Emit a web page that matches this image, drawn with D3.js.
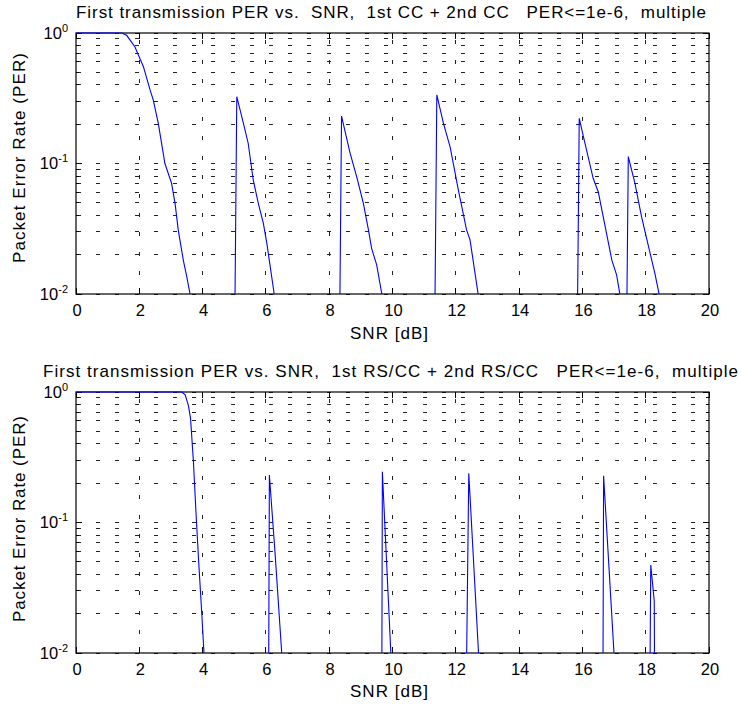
<!DOCTYPE html>
<html>
<head>
<meta charset="utf-8">
<title>PER vs SNR</title>
<script src="https://d3js.org/d3.v7.min.js"></script>
<style>
  body { margin: 0; background: #fff; }
  text { font-family: "Liberation Sans", Arial, sans-serif; fill: #000; }
</style>
</head>
<body>
<div id="chart"></div>
<script>
// top panel: 1st CC + 2nd CC  (1e-6 = below the plotted range)
var snrTop = [0, 0.4, 0.8, 1.2, 1.44, 1.6, 1.86, 2.13, 2.34, 2.44, 2.60, 2.81, 3.02, 3.13, 3.23, 3.39, 3.50, 3.60, 3.80,
  4.88, 5.08, 5.29, 5.44, 5.60, 5.76, 5.92, 6.03, 6.26, 6.45,
  8.19, 8.39, 8.66, 8.87, 9.08, 9.24, 9.34, 9.50, 9.66, 9.85,
  11.20, 11.40, 11.61, 11.82, 12.08, 12.34, 12.45, 12.71, 12.90,
  15.70, 15.90, 16.08, 16.34, 16.50, 16.72, 16.93, 17.08, 17.19, 17.25,
  17.45, 17.66, 17.87, 18.14, 18.29, 18.43, 18.60];
var perTop = [1, 1, 1, 1, 1, 0.96, 0.785, 0.552, 0.366, 0.307, 0.203, 0.100, 0.0705, 0.0495, 0.031, 0.0182, 0.0136, 0.0101, 1e-6,
  1e-6, 0.325, 0.203, 0.143, 0.0748, 0.0495, 0.0348, 0.0244, 0.0101, 1e-6,
  1e-6, 0.231, 0.120, 0.079, 0.0495, 0.031, 0.0224, 0.0167, 0.0101, 1e-6,
  1e-6, 0.335, 0.203, 0.134, 0.0627, 0.031, 0.026, 0.0098, 1e-6,
  1e-6, 0.222, 0.143, 0.077, 0.0608, 0.0328, 0.0182, 0.014, 0.0098, 1e-6,
  0.113, 0.0705, 0.039, 0.0205, 0.0144, 0.0098, 1e-6];

// bottom panel: 1st RS/CC + 2nd RS/CC
var snrBot = [0, 1, 2, 3, 3.34, 3.45, 3.55, 3.62, 3.71, 3.79, 3.87, 3.97, 4.04, 4.20,
  6.03, 6.11, 6.29, 6.50, 6.65,
  9.62, 9.68, 9.95, 10.10,
  12.15, 12.41, 12.72, 12.90,
  16.60, 16.67, 17.00, 17.15,
  18.02, 18.16, 18.27, 18.35];
var perBot = [1, 1, 1, 1, 1, 0.95, 0.79, 0.625, 0.292, 0.121, 0.053, 0.0208, 0.0104, 1e-6,
  1e-6, 0.231, 0.058, 0.01, 1e-6,
  1e-6, 0.245, 0.0097, 1e-6,
  1e-6, 0.238, 0.0098, 1e-6,
  1e-6, 0.228, 0.0098, 1e-6,
  1e-6, 0.0473, 0.025, 1e-6];

var titles = ["First transmission PER vs.  SNR,  1st CC + 2nd CC   PER<=1e-6,  multiple",
              "First transmission PER vs. SNR,  1st RS/CC + 2nd RS/CC   PER<=1e-6,  multiple"];
var xLabel = "SNR [dB]";
var yLabel = "Packet Error Rate (PER)";
var xTicks = [0, 2, 4, 6, 8, 10, 12, 14, 16, 18, 20];
var yTicks = [0.01, 0.1, 1];
var yTickExp = ["-2", "-1", "0"];

var width = 742, height = 706;
var left = 76, right = 709, plotH = 261;

var panels = [
  { top: 33, snr: snrTop, per: perTop, title: titles[0], titleX: 391, titleY: 18, titleLen: 630, xlabY: 339, ylabY: 158, ylabLen: 210 },
  { top: 392, snr: snrBot, per: perBot, title: titles[1], titleX: 390.5, titleY: 377, titleLen: 695, xlabY: 697, ylabY: 519, ylabLen: 206 }
];

var svg = d3.select("#chart").append("svg")
  .attr("width", width)
  .attr("height", height);

var x = d3.scaleLinear().domain([0, 20]).range([left, right]);

panels.forEach(function (p, i) {
  var y = d3.scaleLog().domain([0.01, 1]).range([p.top + plotH, p.top]);
  var g = svg.append("g");

  // grid
  var grid = g.append("g")
    .attr("stroke", "#222")
    .attr("stroke-width", 1)
    .attr("shape-rendering", "crispEdges")
    .attr("stroke-dasharray", "4,15.2");

  grid.selectAll("line.h")
    .data(y.ticks())
    .enter().append("line")
    .attr("x1", left + 1).attr("x2", right)
    .attr("y1", function (d) { return y(d); })
    .attr("y2", function (d) { return y(d); });

  grid.selectAll("line.v")
    .data(xTicks.slice(1, -1))
    .enter().append("line")
    .attr("x1", function (d) { return x(d); })
    .attr("x2", function (d) { return x(d); })
    .attr("y1", p.top + plotH)
    .attr("y2", p.top);

  // inner ticks
  var ticks = g.append("g").attr("stroke", "#000").attr("shape-rendering", "crispEdges");
  xTicks.forEach(function (t) {
    ticks.append("line").attr("x1", x(t)).attr("x2", x(t)).attr("y1", p.top + plotH).attr("y2", p.top + plotH - 6);
    ticks.append("line").attr("x1", x(t)).attr("x2", x(t)).attr("y1", p.top).attr("y2", p.top + 6);
  });
  y.ticks().forEach(function (t) {
    var len = yTicks.indexOf(t) >= 0 ? 6 : 3;
    ticks.append("line").attr("x1", left).attr("x2", left + len).attr("y1", y(t)).attr("y2", y(t));
    ticks.append("line").attr("x1", right).attr("x2", right - len).attr("y1", y(t)).attr("y2", y(t));
  });

  // box
  g.append("rect")
    .attr("x", left).attr("y", p.top)
    .attr("width", right - left).attr("height", plotH)
    .attr("fill", "none").attr("stroke", "#000").attr("stroke-width", 1.2);

  // data line, drawn over the box like matlab does
  var clipId = "clip" + i;
  g.append("clipPath").attr("id", clipId)
    .append("rect")
    .attr("x", left).attr("y", p.top - 2)
    .attr("width", right - left).attr("height", plotH + 2);

  var line = d3.line()
    .x(function (d) { return x(d[0]); })
    .y(function (d) { return y(d[1]); });

  g.append("path")
    .datum(d3.zip(p.snr, p.per))
    .attr("clip-path", "url(#" + clipId + ")")
    .attr("fill", "none")
    .attr("stroke", "#0000ff")
    .attr("stroke-width", 1.1)
    .attr("d", line);

  // x tick labels
  g.selectAll("text.xt")
    .data(xTicks)
    .enter().append("text")
    .attr("x", function (d) { return x(d) + 1; })
    .attr("y", p.top + plotH + 22)
    .attr("text-anchor", "middle")
    .style("font-size", "16.5px")
    .text(function (d) { return d; });

  // y tick labels 10^n
  yTicks.forEach(function (t, k) {
    var tx = g.append("text")
      .attr("x", 68)
      .attr("y", y(t) + 5.5)
      .attr("text-anchor", "end")
      .style("font-size", "16.5px");
    tx.append("tspan").text("10");
    tx.append("tspan").attr("dy", -7).style("font-size", "11px").text(yTickExp[k]);
  });

  // title and labels
  g.append("text")
    .attr("x", p.titleX).attr("y", p.titleY)
    .attr("text-anchor", "middle")
    .attr("textLength", p.titleLen)
    .attr("lengthAdjust", "spacing")
    .style("font-size", "17px")
    .style("white-space", "pre")
    .text(p.title);

  g.append("text")
    .attr("x", 389).attr("y", p.xlabY)
    .attr("text-anchor", "middle")
    .attr("textLength", 78)
    .attr("lengthAdjust", "spacing")
    .style("font-size", "17px")
    .text(xLabel);

  g.append("text")
    .attr("transform", "translate(25," + p.ylabY + ") rotate(-90)")
    .attr("text-anchor", "middle")
    .attr("textLength", p.ylabLen)
    .attr("lengthAdjust", "spacing")
    .style("font-size", "17px")
    .text(yLabel);
});
</script>
</body>
</html>
